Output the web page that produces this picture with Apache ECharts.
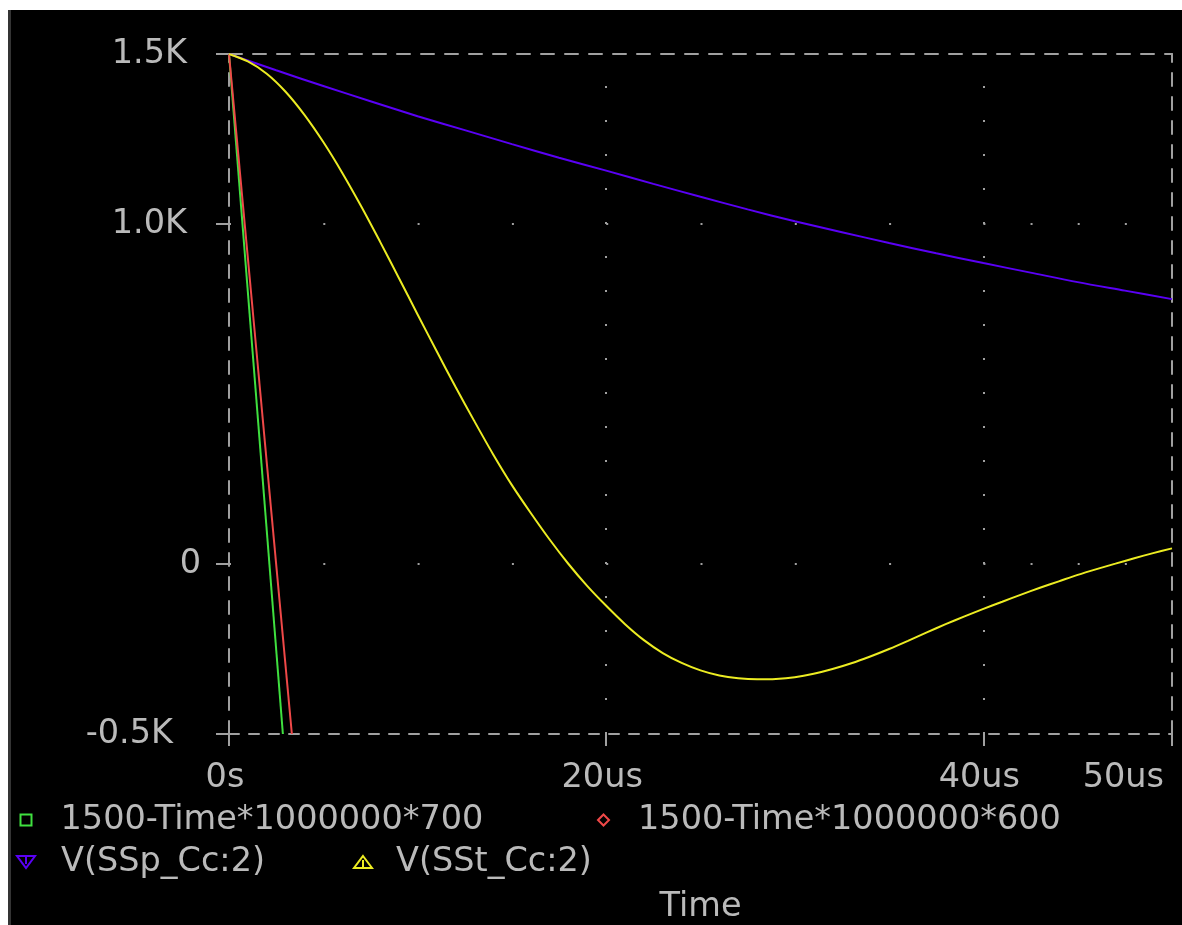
<!DOCTYPE html>
<html>
<head>
<meta charset="utf-8">
<script src="https://cdn.jsdelivr.net/npm/echarts@6/dist/echarts.min.js"></script>
<style>
  html, body { margin: 0; padding: 0; background: #fff; width: 1182px; height: 925px; overflow: hidden; }
  #frame { position: absolute; left: 8px; top: 10px; width: 1174px; height: 915px; background: #000; }
  #edge { position: absolute; left: 0; top: 0; width: 3px; height: 915px; background: #343434; z-index: 5; }
  #chart { position: absolute; left: 0; top: 0; width: 1174px; height: 915px; }
</style>
</head>
<body>
<div id="frame"><div id="chart"></div><div id="edge"></div></div>
<script>
// Transient analysis traces, time in microseconds, voltage in volts
const seriesNames = ['1500-Time*1000000*700', '1500-Time*1000000*600', 'V(SSp_Cc:2)', 'V(SSt_Cc:2)'];

const rampFastT = [0, 2.857];
const rampFastV = [1500, -500];

const rampSlowT = [0, 3.333];
const rampSlowV = [1500, -500];

const sspT = [0, 2.5, 5, 7.5, 10, 12.5, 15, 17.5, 20, 22.5, 25, 27.5, 30, 32.5, 35, 37.5, 40, 42.5, 45, 47.5, 50];
const sspV = [1500, 1452, 1406, 1361, 1317, 1276, 1235, 1195, 1157, 1118, 1080, 1043, 1008, 976, 944, 914, 885, 857, 829, 804, 779];

const sstT = [0, 1, 2, 3, 4, 5, 6, 7, 8, 9, 10, 11, 12, 13, 14, 15, 16, 17, 18, 19, 20,
              21, 22, 23, 24, 25, 26, 27, 28, 29, 30, 31, 32, 33, 34, 35, 36, 37, 38, 39, 40,
              41, 42, 43, 44, 45, 46, 47, 48, 49, 50];
const sstV = [1500, 1478, 1442, 1389, 1321, 1241, 1151, 1053, 949, 842, 734, 627, 522, 421, 323, 232, 150, 72, 0, -65, -123,
              -177, -224, -262, -291, -313, -328, -336, -339, -338, -333, -323, -309, -292, -272, -250, -226, -201, -177, -154, -132,
              -111, -90, -70, -51, -32, -15, 1, 17, 32, 46];

const xTickValues = [0, 20, 40, 50];
const xTickLabels = ['0s', '20us', '40us', '50us'];
const yTickValues = [-500, 0, 1000, 1500];
const yTickLabels = ['-0.5K', '0', '1.0K', '1.5K'];

// dotted grid: vertical lines at these times, horizontal rows at these voltages
const gridTimes = [20, 40];
const gridVolts = [1000, 0];
// spacing (us) between the dots along a horizontal grid row
const rowDotSteps = [5, 5, 5, 5, 5, 5, 5, 5, 2.5, 2.5, 2.5, 2.5];

const COLORS = { fast: '#3fe03f', slow: '#f04848', ssp: '#5a00f5', sst: '#ecec22' };
const TEXT = '#bababa';
const FRAME = '#a0a0a0';
const FONT = 'DejaVu Sans, Liberation Sans, sans-serif';
const FS = 33.5;

const GRID = { left: 221, top: 44, width: 943, bottom: 191, outerBoundsMode: 'none', containLabel: false };

function zip(t, v) { return t.map((x, i) => [x, v[i]]); }

// dash pattern that places a dot at every step of the row
const pxPerUs = GRID.width / 50;
const rowPattern = [];
rowDotSteps.forEach(s => { rowPattern.push(2, s * pxPerUs - 2); });

const textBase = { color: TEXT, fontSize: FS, fontFamily: FONT };

function yLabel(v) {
  const i = yTickValues.indexOf(v);
  if (i < 0) return '';
  const key = v === 0 ? 'z' : (v < 0 ? 'n' : 'p');
  return '{' + key + '|' + yTickLabels[i] + '}';
}

function legendFor(name, icon, color, left, top, w, h, gap) {
  return {
    data: [{ name: name, icon: icon, itemStyle: { color: 'transparent', borderColor: color, borderWidth: 2 } }],
    left: left, top: top, itemWidth: w, itemHeight: h, padding: 0, selectedMode: false,
    textStyle: Object.assign({}, textBase, { lineHeight: 36, padding: [0, 0, 0, gap] })
  };
}

const chart = echarts.init(document.getElementById('chart'), null, { renderer: 'canvas' });

chart.setOption({
  backgroundColor: '#000',
  animation: false,
  grid: GRID,
  legend: [
    legendFor(seriesNames[0], 'rect', COLORS.fast, 11.5, 792, 11, 11, 24),
    legendFor(seriesNames[1], 'diamond', COLORS.slow, 589, 792, 11, 11, 24),
    legendFor(seriesNames[2], 'path://M0 0L18 0L9 12Z M9 0L9 8', COLORS.ssp, 8, 834, 18, 13, 21),
    legendFor(seriesNames[3], 'path://M9 0L18 12L0 12Z M9 4L9 12', COLORS.sst, 345, 834, 18, 13, 19)
  ],
  xAxis: [
    {
      type: 'value', position: 'bottom', min: 0, max: 50,
      axisLine: { onZero: false, lineStyle: { color: FRAME, width: 2, type: [10, 10] } },
      axisTick: { show: true, customValues: xTickValues, length: 12, lineStyle: { color: FRAME, width: 2 } },
      axisLabel: {
        customValues: xTickValues,
        formatter: v => { const i = xTickValues.indexOf(v); return i < 0 ? '' : xTickLabels[i]; },
        margin: 27, padding: [0, 8, 0, 0], alignMaxLabel: 'right',
        color: TEXT, fontSize: FS, fontFamily: FONT
      },
      splitLine: { show: false },
      name: 'Time', nameLocation: 'middle', nameGap: 156,
      nameTextStyle: textBase
    },
    {
      type: 'value', position: 'top', min: 0, max: 50,
      axisLine: { onZero: false, lineStyle: { color: FRAME, width: 2, type: [13, 11] } },
      axisTick: { show: false }, axisLabel: { show: false }, splitLine: { show: false }
    }
  ],
  yAxis: [
    {
      type: 'value', position: 'left', min: -500, max: 1500,
      axisLine: { onZero: false, lineStyle: { color: FRAME, width: 2, type: [13, 11] } },
      axisTick: { show: true, customValues: yTickValues, length: 13, lineStyle: { color: FRAME, width: 2 } },
      axisLabel: {
        customValues: yTickValues, formatter: yLabel, margin: 28,
        color: TEXT, fontSize: FS, fontFamily: FONT,
        rich: {
          p: Object.assign({}, textBase, { padding: [0, 14, 0, 0] }),
          z: Object.assign({}, textBase, { padding: [0, 0, 0, 0] }),
          n: Object.assign({}, textBase, { padding: [0, 28, 0, 0] })
        }
      },
      splitLine: { show: false }
    },
    {
      type: 'value', position: 'right', min: -500, max: 1500,
      axisLine: { onZero: false, lineStyle: { color: FRAME, width: 2, type: [13, 11] } },
      axisTick: { show: false }, axisLabel: { show: false }, splitLine: { show: false }
    }
  ],
  series: [
    {
      name: seriesNames[0], type: 'line', symbol: 'none', data: zip(rampFastT, rampFastV),
      lineStyle: { color: COLORS.fast, width: 2 }, itemStyle: { color: COLORS.fast },
      markLine: {
        silent: true, symbol: ['none', 'none'], label: { show: false },
        lineStyle: { color: FRAME, width: 2 },
        data: gridTimes.map(t => ({ xAxis: t, lineStyle: { type: [2, 32], color: FRAME, width: 2 } }))
          .concat(gridVolts.map(v => ({ yAxis: v, lineStyle: { type: rowPattern, color: FRAME, width: 2 } })))
      }
    },
    {
      name: seriesNames[1], type: 'line', symbol: 'none', data: zip(rampSlowT, rampSlowV),
      lineStyle: { color: COLORS.slow, width: 2 }, itemStyle: { color: COLORS.slow }
    },
    {
      name: seriesNames[2], type: 'line', symbol: 'none', data: zip(sspT, sspV), smooth: 0.3,
      lineStyle: { color: COLORS.ssp, width: 2 }, itemStyle: { color: COLORS.ssp }
    },
    {
      name: seriesNames[3], type: 'line', symbol: 'none', data: zip(sstT, sstV), smooth: 0.3,
      lineStyle: { color: COLORS.sst, width: 2 }, itemStyle: { color: COLORS.sst }
    }
  ]
});
</script>
</body>
</html>
